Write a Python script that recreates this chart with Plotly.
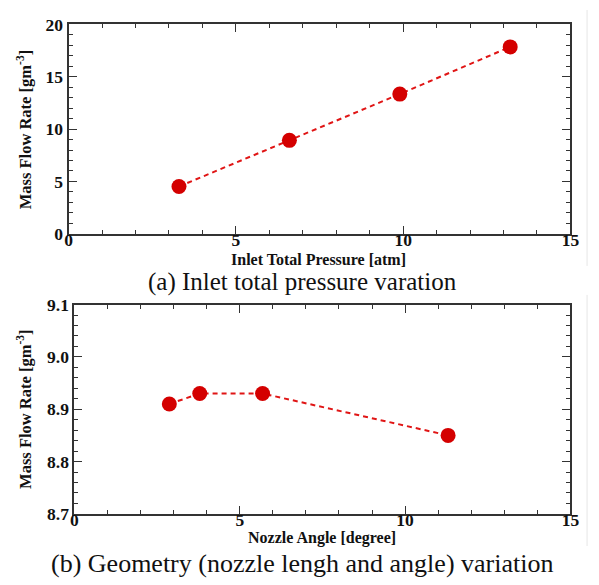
import plotly.graph_objects as go

# Data
pressure_atm = [3.3, 6.6, 9.9, 13.2]
mass_flow_a = [4.52, 8.93, 13.35, 17.86]

nozzle_angle_deg = [2.87, 3.79, 5.69, 11.3]
mass_flow_b = [8.91, 8.93, 8.93, 8.85]

x_ticks = [0, 5, 10, 15]
y_ticks_a = [0, 5, 10, 15, 20]
y_ticks_b = [8.7, 8.8, 8.9, 9.0, 9.1]
y_ticklabels_b = ["8.7", "8.8", "8.9", "9.0", "9.1"]

x_title_a = "Inlet Total Pressure [atm]"
x_title_b = "Nozzle Angle [degree]"
y_title = "Mass Flow Rate [gm<sup>-3</sup>]"
caption_a = "(a) Inlet total pressure varation"
caption_b = "(b) Geometry (nozzle lengh and angle) variation"

W, H = 599, 585
RED = "#D40000"
AX = "#333333"
FONT = "'Liberation Serif', 'Times New Roman', Times, serif"
TXT = "#111111"

fig = go.Figure()

fig.add_trace(go.Scatter(
    x=pressure_atm, y=mass_flow_a, mode="lines+markers",
    line=dict(color="#E01515", width=2, dash="5px,4px"),
    marker=dict(color=RED, size=15),
    xaxis="x", yaxis="y", showlegend=False))

fig.add_trace(go.Scatter(
    x=nozzle_angle_deg, y=mass_flow_b, mode="lines+markers",
    line=dict(color="#E01515", width=2, dash="5px,4px"),
    marker=dict(color=RED, size=15),
    xaxis="x2", yaxis="y2", showlegend=False))

def px_x(p):
    return p / W

def px_y(p):
    return 1 - p / H

common = dict(
    showline=True, linecolor=AX, linewidth=2, mirror="allticks",
    ticks="inside", ticklen=8, tickwidth=1.2, tickcolor=AX,
    showgrid=False, zeroline=False,
    tickfont=dict(family=FONT, size=17.5, color=TXT, weight="bold"),
)

def ann(text, x, y, size, bold=False, angle=0):
    return dict(text=text, xref="paper", yref="paper", x=px_x(x), y=px_y(y),
                xanchor="center", yanchor="middle", showarrow=False, textangle=angle,
                font=dict(family=FONT, size=size, color=TXT,
                          weight="bold" if bold else "normal"))

fig.update_layout(
    width=W, height=H,
    margin=dict(l=0, r=0, t=0, b=0),
    paper_bgcolor="white", plot_bgcolor="white",
    xaxis=dict(domain=[px_x(66), px_x(579)], range=[0, 15], anchor="y",
               tickvals=x_ticks, ticklabelstandoff=-11,
               minor=dict(dtick=1, ticks="inside", ticklen=4, tickcolor=AX, tickwidth=1),
               **common),
    yaxis=dict(domain=[px_y(231.7), px_y(15)], range=[0, 20], anchor="x",
               tickvals=y_ticks_a,
               minor=dict(dtick=1, ticks="inside", ticklen=4, tickcolor=AX, tickwidth=1),
               **common),
    xaxis2=dict(domain=[px_x(72), px_x(579)], range=[0, 15], anchor="y2",
                tickvals=x_ticks, ticklabelstandoff=-11,
                minor=dict(dtick=1, ticks="inside", ticklen=4, tickcolor=AX, tickwidth=1),
                **common),
    yaxis2=dict(domain=[px_y(521.7), px_y(305)], range=[8.7, 9.1], anchor="x2",
                tickvals=y_ticks_b, ticktext=y_ticklabels_b,
                minor=dict(dtick=0.02, ticks="inside", ticklen=4, tickcolor=AX, tickwidth=1),
                **common),
    annotations=[
        ann(x_title_a, 321.5, 258, 16, bold=True),
        ann(x_title_b, 325, 547, 16, bold=True),
        ann(y_title, 21, 124, 16.5, bold=True, angle=-90),
        ann(y_title, 21, 413.5, 16.5, bold=True, angle=-90),
        ann(caption_a, 305, 282, 25),
        ann(caption_b, 305, 573, 26),
    ],
    shapes=[
        dict(type="line", xref="paper", yref="paper", x0=px_x(596), x1=px_x(596),
             y0=px_y(265), y1=px_y(0), line=dict(color="#E6E6E6", width=1)),
        dict(type="line", xref="paper", yref="paper", x0=px_x(596), x1=px_x(596),
             y0=px_y(555), y1=px_y(295), line=dict(color="#E6E6E6", width=1)),
    ],
)

fig.write_html("out.html")
